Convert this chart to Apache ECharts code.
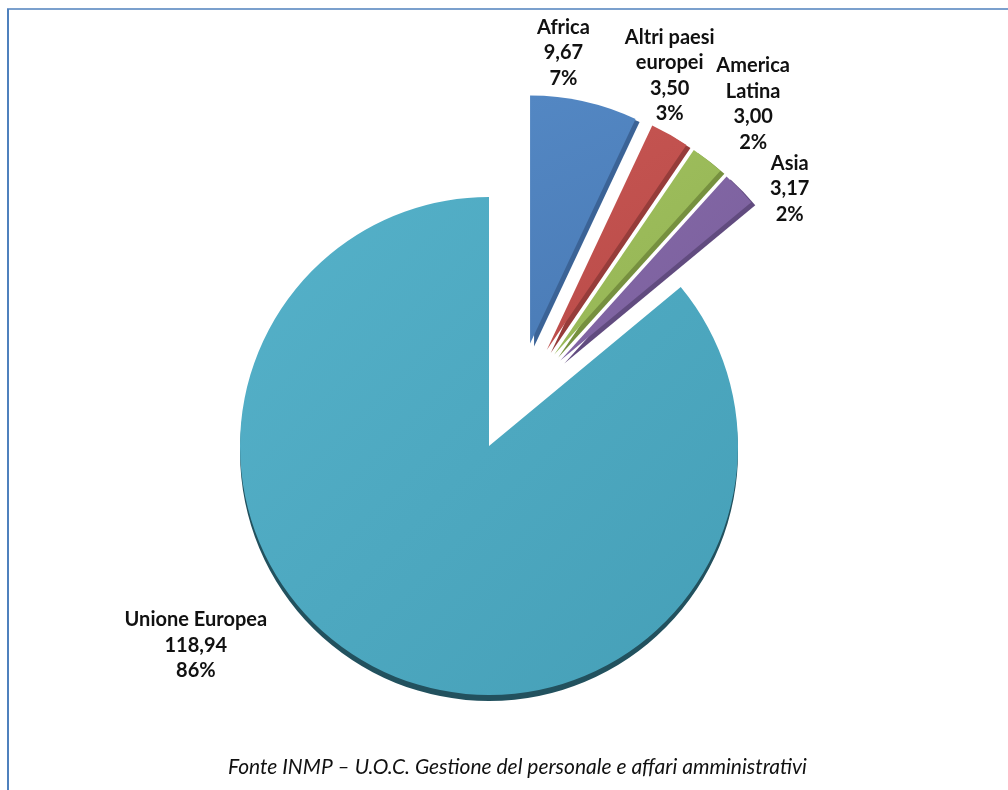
<!DOCTYPE html>
<html><head><meta charset="utf-8">
<script src="https://cdn.jsdelivr.net/npm/echarts@6/dist/echarts.min.js"></script>
<style>html,body{margin:0;padding:0;background:#fff}#c{width:1008px;height:790px}</style>
</head><body><div id="c"></div>
<script>
const categories = ['Africa', 'Altri paesi europei', 'America Latina', 'Asia', 'Unione Europea'];
const labelNameLines = [['Africa'], ['Altri paesi', 'europei'], ['America', 'Latina'], ['Asia'], ['Unione Europea']];
const values = [9.67, 3.50, 3.00, 3.17, 118.94];
const exploded = [true, true, true, true, false];
const footnote = 'Fonte INMP \u2013 U.O.C. Gestione del personale e affari amministrativi';

// styling / layout (not data)
const topColorsA = ['#5387C3', '#C65552', '#A0C05E', '#8569A8', '#55B1C9'];
const topColorsB = ['#4A7BB6', '#B94B48', '#93B353', '#7A5F9C', '#459FB7'];
const sideColors = ['#3B6396', '#963C3A', '#76903F', '#614B7F', '#22515E'];
const labelNudge = [[-27, -43], [-8, -54], [37, -51], [41, 4], [-168, -35]];

function fmtNum(v) { return v.toFixed(2).replace('.', ','); }
function labelFormatter(p) {
  const lines = labelNameLines[p.dataIndex].concat([fmtNum(p.value), p.percent.toFixed(0) + '%']);
  return lines.map(l => '{n|' + l + '}').join('\n');
}
const richStyle = { n: { fontFamily: 'Lato', fontWeight: 'bold', fontSize: 20, lineHeight: 25.5, color: '#111', align: 'center' } };

function buildData(showExploded) {
  return categories.map((name, i) => {
    const visible = exploded[i] === showExploded;
    return {
      name: name,
      value: values[i],
      selected: showExploded && exploded[i],
      itemStyle: visible ? {
        color: { type: 'linear', x: 0, y: 0, x2: 1, y2: 1, colorStops: [{ offset: 0, color: topColorsA[i] }, { offset: 1, color: topColorsB[i] }] },
        shadowColor: sideColors[i],
        shadowBlur: 0,
        shadowOffsetX: showExploded ? 4 : 0,
        shadowOffsetY: showExploded ? 3 : 6
      } : { color: 'rgba(0,0,0,0)' },
      label: { show: visible },
      tooltip: { show: visible }
    };
  });
}

function nudge(params) {
  const d = labelNudge[params.dataIndex];
  return { align: 'center', verticalAlign: 'middle', dx: d[0], dy: d[1] };
}

const chart = echarts.init(document.getElementById('c'), null, { renderer: 'canvas' });
chart.setOption({
  animation: false,
  backgroundColor: '#fff',
  graphic: [
    { type: 'line', shape: { x1: 7, y1: 9, x2: 1008, y2: 9 }, style: { stroke: '#4F81BD', lineWidth: 1.5 } },
    { type: 'line', shape: { x1: 8, y1: 9, x2: 8, y2: 790 }, style: { stroke: '#4F81BD', lineWidth: 2 } },
    { type: 'text', left: 228, top: 757, style: { text: footnote, font: 'italic 21px Lato', fill: '#111' } }
  ],
  series: [
    {
      type: 'pie', name: 'main', center: [489, 446], radius: 249, startAngle: 90, clockwise: true,
      selectedMode: false, avoidLabelOverlap: false,
      label: { position: 'outside', formatter: labelFormatter, rich: richStyle },
      labelLine: { show: false, length: 10, length2: 10 },
      labelLayout: nudge,
      emphasis: { disabled: true },
      data: buildData(false)
    },
    {
      type: 'pie', name: 'exploded', center: [517, 402], radius: 248, startAngle: 90, clockwise: true,
      selectedMode: 'multiple', selectedOffset: 60, avoidLabelOverlap: false,
      label: { position: 'outside', formatter: labelFormatter, rich: richStyle },
      labelLine: { show: false, length: 6, length2: 0 },
      labelLayout: nudge,
      emphasis: { disabled: true },
      data: buildData(true)
    }
  ]
});
</script></body></html>
